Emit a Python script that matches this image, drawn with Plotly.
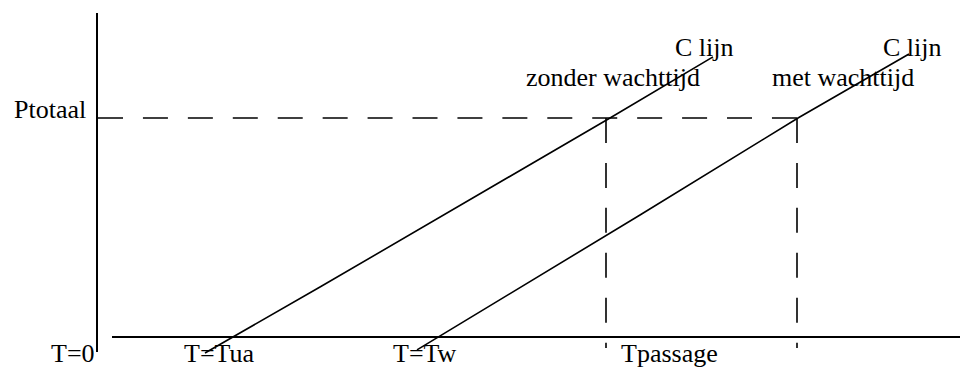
import plotly.graph_objects as go

# schematic: P (load) against T (time), two C lines
# units: T in tenths of the drawing width, P so that Ptotaal = 100

P_TOTAAL = 100

# axes of the drawing
t_axis_T = [1.5, 86.3]
t_axis_P = [0, 0]
p_axis_T = [0, 0]
p_axis_P = [-6.9, 147.9]

# C lijn zonder wachttijd
c1_T = [10.8, 22.3, 51.3, 61.6]
c1_P = [-7.3, 22.8, 100, 127.9]

# C lijn met wachttijd
c2_T = [32.0, 54.3, 70.1, 81.2]
c2_P = [-5.9, 55.7, 100, 129.2]

# dashed helper lines
ptot_T = [0.1, 70.0]
tpass1_T = 50.9
tpass2_T = 70.0
dash_bottom_P = -5.0

labels = ['Ptotaal', 'T=0', 'T=Tua', 'T=Tw', 'Tpassage',
          'zonder wachttijd', 'met wachttijd', 'C lijn', 'C lijn']
label_T = [-4.75, -2.45, 12.25, 32.8, 57.25, 51.55, 74.55, 60.75, 81.55]
label_P = [104.1, -7.76, -7.76, -7.76, -7.76, 118.3, 118.3, 132.0, 132.0]

black = '#000000'
# 16 dashes fit the Ptotaal line exactly, so it ends on a dash at both sides
dash = '25px,19.93px'
serif = 'Liberation Serif'

fig = go.Figure()

# solid axes
fig.add_trace(go.Scatter(x=t_axis_T, y=t_axis_P, mode='lines',
                         line=dict(color=black, width=2)))
fig.add_trace(go.Scatter(x=p_axis_T, y=p_axis_P, mode='lines',
                         line=dict(color=black, width=2)))

# the two C lines
fig.add_trace(go.Scatter(x=c1_T, y=c1_P, mode='lines',
                         line=dict(color=black, width=1.6)))
fig.add_trace(go.Scatter(x=c2_T, y=c2_P, mode='lines',
                         line=dict(color=black, width=1.6)))

# dashed Ptotaal line and the two Tpassage lines
fig.add_trace(go.Scatter(x=ptot_T, y=[P_TOTAAL, P_TOTAAL], mode='lines',
                         line=dict(color=black, width=1.6, dash=dash)))
for t in [tpass1_T, tpass2_T]:
    fig.add_trace(go.Scatter(x=[t, t], y=[P_TOTAAL, dash_bottom_P], mode='lines',
                             line=dict(color=black, width=1.6, dash=dash)))

for txt, t, p in zip(labels, label_T, label_P):
    fig.add_annotation(x=t, y=p, text=txt, showarrow=False,
                       xanchor='center', yanchor='middle',
                       font=dict(family=serif, size=26, color=black))

fig.update_xaxes(range=[-9.7, 86.3], visible=False)
fig.update_yaxes(range=[-15.07, 153.88], visible=False)
fig.update_layout(width=960, height=370, margin=dict(l=0, r=0, t=0, b=0),
                  showlegend=False, plot_bgcolor='white', paper_bgcolor='white',
                  hovermode=False, font=dict(family=serif))

# drop the page's default body margin so the drawing starts at the corner
fig.write_html("out.html", config={'displayModeBar': False},
               post_script="document.body.style.margin='0';")
